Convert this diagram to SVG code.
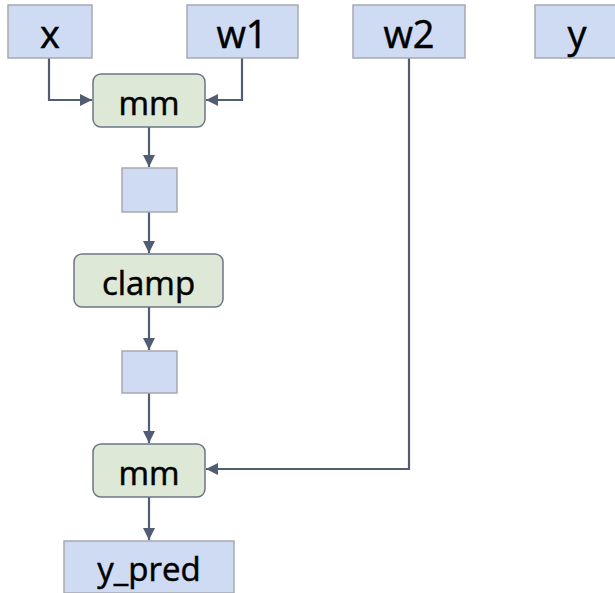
<svg xmlns="http://www.w3.org/2000/svg" width="615" height="593" viewBox="0 0 615 593">
<style>
.t{fill:#cfdbf3;stroke:#a6a9b0;stroke-width:1.5}
.op{fill:#dde8d6;stroke:#6b7686;stroke-width:1.5}
.lbl{font-family:"Open Sans","Liberation Sans",sans-serif;fill:#000;stroke:#000;stroke-width:0.5;text-anchor:middle;dominant-baseline:central}
.big{font-size:38px}
.mid{font-size:33px}
.c{fill:none;stroke:#525d73;stroke-width:2.2}
</style>
<defs>
<marker id="a" viewBox="0 0 12 12" refX="12" refY="6" markerWidth="12" markerHeight="12" orient="auto" markerUnits="userSpaceOnUse">
<path d="M0,0 L12,6 L0,12 z" fill="#525d73"/>
</marker>
</defs>
<rect width="615" height="593" fill="#fff"/>
<g id="connectors">
<path class="c" d="M49,58 V100 H92" marker-end="url(#a)"/>
<path class="c" d="M242,58 V100 H206" marker-end="url(#a)"/>
<path class="c" d="M149,127 V167" marker-end="url(#a)"/>
<path class="c" d="M149,212 V253" marker-end="url(#a)"/>
<path class="c" d="M149,307 V350" marker-end="url(#a)"/>
<path class="c" d="M149,393 V443" marker-end="url(#a)"/>
<path class="c" d="M409,58 V469 H206" marker-end="url(#a)"/>
<path class="c" d="M149,497 V540" marker-end="url(#a)"/>
</g>
<g id="x"><rect class="t" x="8" y="5" width="84" height="53"/><text class="lbl big" x="50" y="33">x</text></g>
<g id="w1"><rect class="t" x="187" y="5" width="111" height="53"/><text class="lbl big" x="242" y="33">w1</text></g>
<g id="w2"><rect class="t" x="353" y="5" width="112" height="53"/><text class="lbl big" x="409" y="33">w2</text></g>
<g id="y"><rect class="t" x="535" y="5" width="112" height="53"/><text class="lbl big" x="577" y="33">y</text></g>
<g id="mm1"><rect class="op" x="93" y="74" width="112" height="53" rx="8"/><text class="lbl mid" x="149" y="102">mm</text></g>
<g id="t1"><rect class="t" x="122" y="168" width="55" height="44"/></g>
<g id="clamp"><rect class="op" x="74" y="254" width="149" height="53" rx="8"/><text class="lbl mid" x="148.5" y="282">clamp</text></g>
<g id="t2"><rect class="t" x="122" y="351" width="55" height="42"/></g>
<g id="mm2"><rect class="op" x="93" y="444" width="112" height="53" rx="8"/><text class="lbl mid" x="149" y="472">mm</text></g>
<g id="y_pred"><rect class="t" x="64" y="541" width="170" height="52"/><text class="lbl mid" x="149" y="568">y_pred</text></g>
</svg>
